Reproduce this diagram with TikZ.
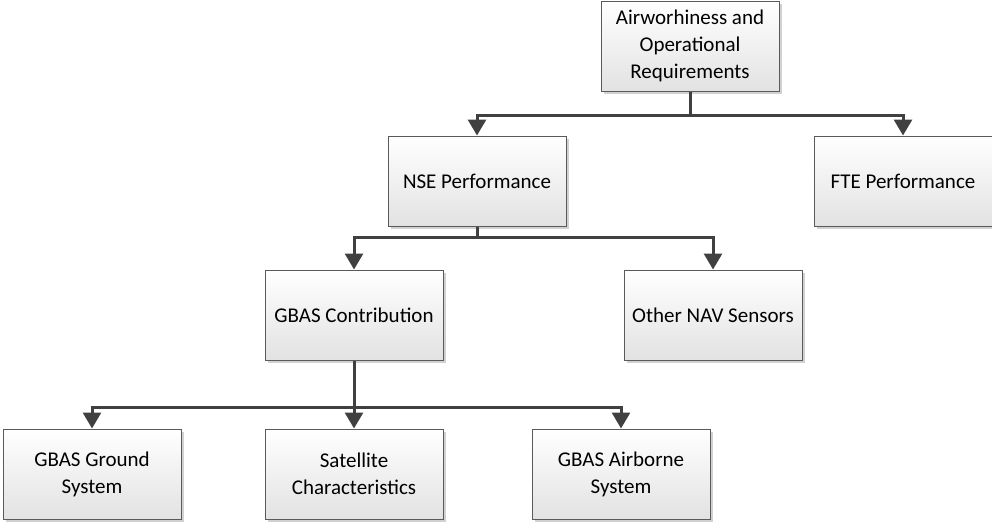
\documentclass[tikz,border=0pt]{standalone}
\usepackage{fontspec}
\setmainfont{Carlito}
\usetikzlibrary{shadows,arrows.meta}
\definecolor{linkcol}{HTML}{404040}
\definecolor{boxline}{HTML}{5A5A5A}
\definecolor{boxfill}{HTML}{E2E2E2}
\begin{document}
\begin{tikzpicture}[x=1pt,y=-1pt,
  box/.style={draw=boxline, line width=1pt, top color=white, bottom color=boxfill,
    minimum width=178pt, minimum height=90pt, align=center, inner sep=2pt,
    font=\fontsize{21}{27}\selectfont,
    drop shadow={shadow xshift=3pt, shadow yshift=-3pt, fill=black, opacity=0.18}},
  link/.style={draw=linkcol, line width=3pt},
  arr/.style={link, -{Triangle[length=16pt,width=18pt]}}]
\useasboundingbox (0,0) rectangle (992,522);

% boxes
\node[box] (req) at (690,46) {Airworhiness and\\Operational\\Requirements};
\node[box] (nse) at (477,181) {NSE Performance};
\node[box] (fte) at (903,181) {FTE Performance};
\node[box] (gbas) at (354,315) {GBAS Contribution};
\node[box] (nav) at (713,315) {Other NAV Sensors};
\node[box] (ground) at (92,474) {GBAS Ground\\System};
\node[box] (sat) at (354,474) {Satellite\\Characteristics};
\node[box] (air) at (621,474) {GBAS Airborne\\System};

% branch points
\coordinate (j1) at (690,115);
\coordinate (j2) at (477,237);
\coordinate (j3) at (354,407);

% connectors
\draw[link] (req.south) -- (j1);
\draw[arr] (j1) -| (nse.north);
\draw[arr] (j1) -| (fte.north);
\draw[link] (nse.south) -- (j2);
\draw[arr] (j2) -| (gbas.north);
\draw[arr] (j2) -| (nav.north);
\draw[arr] (gbas.south) -- (sat.north);
\draw[arr] (j3) -| (ground.north);
\draw[arr] (j3) -| (air.north);
\end{tikzpicture}
\end{document}
